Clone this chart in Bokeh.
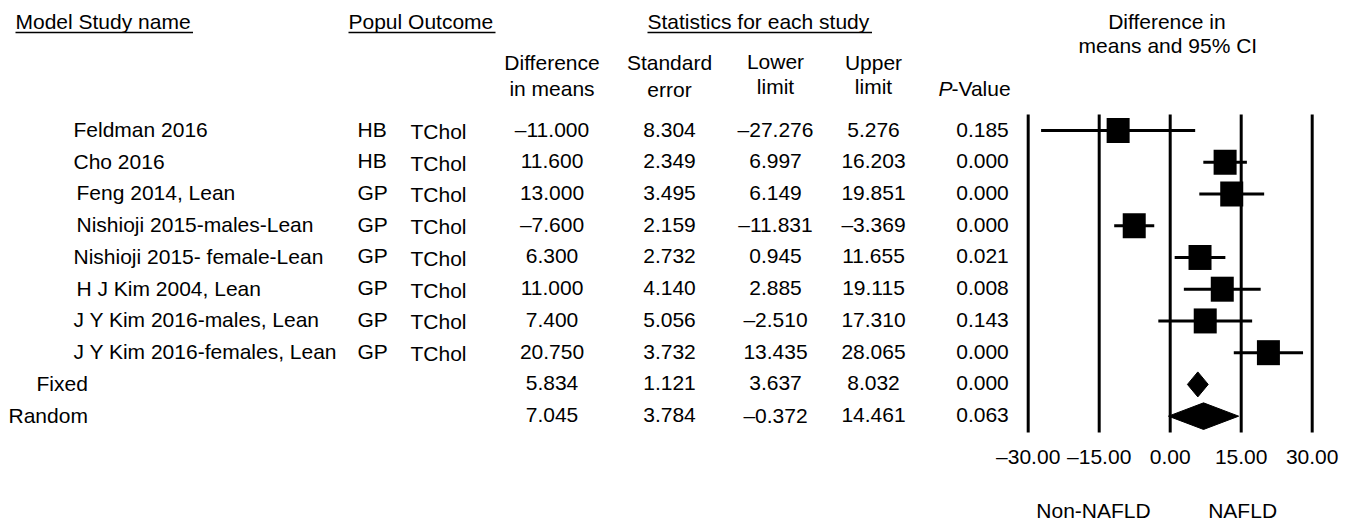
from bokeh.plotting import figure
from bokeh.models import Range1d
from bokeh.core.properties import value
from bokeh.embed import file_html
from bokeh.resources import INLINE

# ---------------- data ----------------
studies = ["Feldman 2016", "Cho 2016", "Feng 2014, Lean", "Nishioji 2015-males-Lean",
           "Nishioji 2015- female-Lean", "H J Kim 2004, Lean", "J Y Kim 2016-males, Lean",
           "J Y Kim 2016-females, Lean"]
popul = ["HB", "HB", "GP", "GP", "GP", "GP", "GP", "GP"]
outcome = ["TChol", "TChol", "TChol", "TChol", "TChol", "TChol", "TChol", "TChol"]
diff = [-11.000, 11.600, 13.000, -7.600, 6.300, 11.000, 7.400, 20.750]
se = [8.304, 2.349, 3.495, 2.159, 2.732, 4.140, 5.056, 3.732]
lower = [-27.276, 6.997, 6.149, -11.831, 0.945, 2.885, -2.510, 13.435]
upper = [5.276, 16.203, 19.851, -3.369, 11.655, 19.115, 17.310, 28.065]
pval = [0.185, 0.000, 0.000, 0.000, 0.021, 0.008, 0.143, 0.000]

models = ["Fixed", "Random"]
m_diff = [5.834, 7.045]
m_se = [1.121, 3.784]
m_lower = [3.637, -0.372]
m_upper = [8.032, 14.461]
m_pval = [0.000, 0.063]

ticks = [-30, -15, 0, 15, 30]
side_labels = ["Non-NAFLD", "NAFLD"]

# ---------------- layout ----------------
W, H = 1353, 523
FONT = "Liberation Sans"
FS = "21px"
TY = -1.0                      # text vertical correction
ROW0, ROW_H = 130.0, 31.74
n = len(studies)
ys = [ROW0 + i * ROW_H for i in range(n + len(models))]
name_x = [73, 73, 76, 76, 73, 76, 73, 73, 36, 8]
COL_POP, COL_OUT = 357, 410
COL_DIFF, COL_SE, COL_LO, COL_UP, COL_P = 551.5, 669, 775, 873, 982

# forest scale: -30 at px 1027.7, +30 at px 1311.7
PX_PER_UNIT = (1311.7 - 1027.7) / 60.0
F_START = -30 - 1027.7 / PX_PER_UNIT
F_END = F_START + W / PX_PER_UNIT


def fmt(v, nd=3):
    return f"{v:.{nd}f}".replace("-", "\u2013")


def txt(fig, x, y, s, align="left", style="normal", rng="default"):
    fig.text(x=x, y=[v + TY for v in y], text=s, text_font=value(FONT), text_font_size=FS,
             text_align=align, text_baseline="middle", text_font_style=style,
             text_color="black", x_range_name=rng)


p = figure(width=W, height=H, x_range=Range1d(0, W), y_range=Range1d(H, 0),
           extra_x_ranges={"forest": Range1d(F_START, F_END)},
           output_backend="svg", toolbar_location=None, x_axis_location=None,
           y_axis_location=None, min_border=0, outline_line_color=None)
p.grid.visible = False

# ---------- table headers ----------
txt(p, [15, 348, 647], [22, 22, 22], ["Model Study name", "Popul Outcome", "Statistics for each study"])
p.segment(x0=[15, 348, 647], y0=[32, 32, 32], x1=[192.5, 495, 871.5], y1=[32, 32, 32],
          line_color="black", line_width=1.3)
txt(p, [COL_DIFF, COL_SE, COL_LO, COL_UP], [63, 63, 62, 63],
    ["Difference", "Standard", "Lower", "Upper"], align="center")
txt(p, [COL_DIFF, COL_SE, COL_LO, COL_UP], [89, 90, 87, 87],
    ["in means", "error", "limit", "limit"], align="center")
txt(p, [938], [89], ["P"], style="italic")
txt(p, [951], [89], ["-Value"])

# ---------- table rows ----------
all_names = studies + models
txt(p, name_x, ys, all_names)
txt(p, [COL_POP] * n, [y - 0.5 for y in ys[:n]], popul)
txt(p, [COL_OUT] * n, [y + 2 for y in ys[:n]], outcome)
txt(p, [COL_DIFF] * len(ys), ys, [fmt(v) for v in diff + m_diff], align="center")
txt(p, [COL_SE] * len(ys), ys, [fmt(v) for v in se + m_se], align="center")
txt(p, [COL_LO] * len(ys), ys, [fmt(v) for v in lower + m_lower], align="center")
txt(p, [COL_UP] * len(ys), ys, [fmt(v) for v in upper + m_upper], align="center")
txt(p, [COL_P] * len(ys), ys, [fmt(v) for v in pval + m_pval], align="center")

# ---------- forest plot ----------
p.segment(x0=ticks, x1=ticks, y0=[114] * len(ticks), y1=[432] * len(ticks),
          line_color="black", line_width=3, x_range_name="forest")
p.segment(x0=lower, x1=upper, y0=ys[:n], y1=ys[:n], line_color="black", line_width=3,
          x_range_name="forest")
p.rect(x=diff, y=ys[:n], width=23, height=25, width_units="screen", height_units="screen",
       fill_color="black", line_color=None, x_range_name="forest")
half_h = [12.5, 13.3]
d_xs = [[lo, m, up, m] for lo, m, up in zip(m_lower, m_diff, m_upper)]
d_ys = [[y, y - h, y, y + h] for y, h in zip(ys[n:], half_h)]
p.patches(xs=d_xs, ys=d_ys, fill_color="black", line_color="black", line_width=1,
          x_range_name="forest")

txt(p, [-0.7, -0.5], [22, 46], ["Difference in", "means and 95% CI"], align="center", rng="forest")
txt(p, ticks, [457] * len(ticks), [fmt(tk, 2) for tk in ticks], align="center", rng="forest")
txt(p, [-16.2, 15.3], [511, 511], side_labels, align="center", rng="forest")

open("out.html", "w").write(file_html(p, INLINE))
